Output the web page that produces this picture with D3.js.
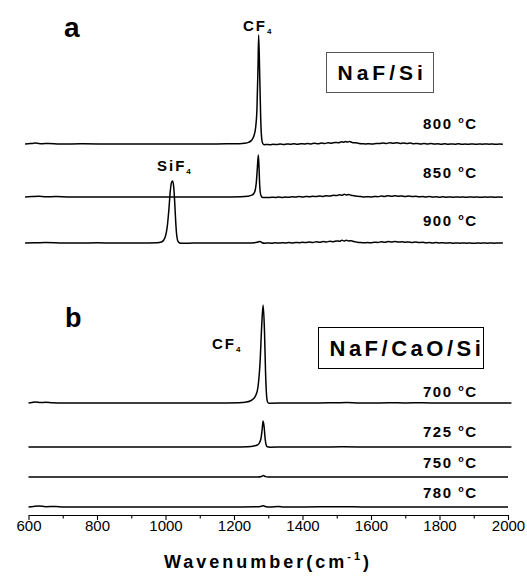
<!DOCTYPE html>
<html>
<head>
<meta charset="utf-8">
<script src="https://cdn.jsdelivr.net/npm/d3@7/dist/d3.min.js"></script>
<style>
  html, body { margin: 0; padding: 0; background: #fff; }
  svg { display: block; }
  text { font-family: "Liberation Sans", Arial, sans-serif; fill: #000; }
</style>
</head>
<body>
<svg id="chart" width="527" height="580"></svg>
<script>
// ---------------- DATA ----------------
const majorTicks = [600, 800, 1000, 1200, 1400, 1600, 1800, 2000];
const minorTicks = [700, 900, 1100, 1300, 1500, 1700, 1900];
const axisTitle = "Wavenumber(cm";

const temps = ["800", "850", "900", "700", "725", "750", "780"];
const offsets = [371, 318, 272, 112, 68, 38, 8];   // vertical stacking offsets (intensity units)

const s800 = [[590,0],[605,0.4],[620,0.9],[640,0.3],[660,0.6],[690,0],[760,0.2],[850,0],[950,0],[1050,0],[1150,0.1],[1200,0.2],[1215,0.3],[1230,0.7],[1242,1.6],[1252,4],[1258,8],[1263,16],[1267,35],[1270,75],[1272,109],[1275,70],[1278,25],[1281,5],[1284,0.5],[1288,-0.7],[1295,-0.4],[1305,-0.7],[1315,-0.2],[1325,-0.6],[1335,0],[1345,-0.4],[1355,0.1],[1365,-0.3],[1375,0.2],[1385,-0.2],[1395,0.3],[1405,0],[1415,0.5],[1425,0.1],[1435,0.7],[1445,0.3],[1455,0.9],[1465,0.5],[1475,1.2],[1485,0.8],[1495,1.6],[1505,1.3],[1515,2.3],[1520,1.8],[1525,2.6],[1530,1.9],[1537,2.4],[1545,1.6],[1555,1.2],[1565,0.6],[1575,0.3],[1585,0.1],[1595,0.2],[1605,0],[1615,0.6],[1625,0.4],[1635,1.0],[1645,0.5],[1655,1.2],[1665,0.7],[1675,1.3],[1685,0.6],[1695,1.0],[1705,0.4],[1715,0.9],[1725,0.3],[1735,0.6],[1745,0.1],[1755,0.5],[1765,0],[1775,0.4],[1785,-0.1],[1795,0.3],[1805,-0.2],[1815,0.2],[1825,-0.3],[1835,0.1],[1845,-0.2],[1855,0.2],[1865,-0.3],[1875,0],[1885,-0.3],[1895,0.1],[1905,-0.3],[1915,0],[1925,-0.2],[1935,0.1],[1945,-0.2],[1955,0],[1965,-0.3],[1975,0],[1985,-0.2]];

const s850 = [[590,0],[610,0.4],[630,0.8],[650,0.2],[680,0.5],[720,0],[800,0.1],[900,0],[1000,0],[1100,0],[1180,0.1],[1220,0.3],[1240,0.8],[1252,1.8],[1258,3.5],[1262,7],[1265,14],[1268,28],[1271,42],[1273,30],[1275,12],[1277,4],[1280,0.5],[1284,-0.6],[1290,-0.4],[1300,-0.6],[1310,-0.2],[1320,-0.5],[1330,-0.1],[1340,-0.4],[1350,0],[1360,-0.3],[1370,0.2],[1380,-0.1],[1390,0.4],[1400,0.1],[1410,0.6],[1420,0.2],[1430,0.8],[1440,0.4],[1450,1.0],[1460,0.6],[1470,1.3],[1480,0.9],[1490,1.7],[1500,1.4],[1508,2.3],[1515,1.7],[1522,2.7],[1528,2.0],[1535,2.6],[1542,1.7],[1550,1.3],[1560,0.7],[1570,0.4],[1580,0.1],[1590,0.3],[1600,0.1],[1610,0.5],[1620,0.3],[1630,1.0],[1640,0.6],[1650,1.3],[1660,0.8],[1670,1.2],[1680,0.7],[1690,1.1],[1700,0.5],[1710,0.9],[1720,0.4],[1730,0.7],[1740,0.2],[1750,0.5],[1760,0.1],[1770,0.4],[1780,-0.1],[1790,0.3],[1800,-0.2],[1810,0.2],[1820,-0.2],[1830,0.1],[1840,-0.3],[1850,0.1],[1860,-0.2],[1870,0],[1880,-0.3],[1890,0.1],[1900,-0.2],[1910,0],[1920,-0.3],[1930,0],[1940,-0.2],[1950,0.1],[1960,-0.3],[1970,0],[1985,-0.2]];

const s900 = [[590,0],[620,0.2],[650,0.5],[700,0.1],[750,0],[800,0.2],[850,0],[900,0],[950,0.1],[975,0.3],[988,1],[995,3],[1000,7],[1005,16],[1010,34],[1014,52],[1018,61],[1021,62],[1024,56],[1027,40],[1030,20],[1033,7],[1036,2],[1040,0.3],[1048,-0.3],[1060,-0.2],[1080,-0.1],[1120,0],[1160,0],[1200,0.1],[1240,0.1],[1260,0.3],[1270,1.0],[1276,1.5],[1282,0.3],[1290,-0.2],[1300,0.1],[1310,-0.3],[1320,0.2],[1330,-0.1],[1340,0.3],[1350,0],[1360,0.4],[1370,0.1],[1380,0.6],[1390,0.3],[1400,0.8],[1410,0.4],[1420,1.0],[1430,0.5],[1440,1.2],[1450,0.8],[1460,1.4],[1470,1.0],[1480,1.7],[1490,1.3],[1500,2.1],[1508,1.7],[1515,2.7],[1522,2.0],[1528,2.8],[1535,2.0],[1542,2.3],[1550,1.4],[1560,0.8],[1570,0.4],[1580,0.2],[1590,0.4],[1600,0.3],[1610,0.8],[1620,0.5],[1630,1.2],[1640,0.8],[1650,1.4],[1660,1.0],[1670,1.5],[1680,0.9],[1690,1.3],[1700,0.8],[1710,1.1],[1720,0.6],[1730,0.9],[1740,0.4],[1750,0.7],[1760,0.2],[1770,0.5],[1780,0.1],[1790,0.4],[1800,0],[1810,0.3],[1820,-0.1],[1830,0.2],[1840,-0.2],[1850,0.1],[1860,-0.2],[1870,0.1],[1880,-0.2],[1890,0],[1900,-0.3],[1910,0],[1920,-0.2],[1930,0.1],[1940,-0.2],[1950,0],[1960,-0.2],[1970,0],[1985,-0.1]];

const s700 = [[600,0],[610,0.5],[620,1.0],[635,0.4],[650,0.8],[670,0.2],[700,0],[800,0],[900,0],[1000,0],[1100,0],[1180,0.1],[1215,0.3],[1233,0.8],[1247,2],[1256,4],[1264,8],[1270,16],[1276,40],[1281,78],[1285,98],[1289,72],[1292,32],[1295,8],[1298,1],[1302,-0.3],[1310,-0.2],[1330,0],[1360,0.1],[1400,0],[1450,0.1],[1500,0.3],[1530,0.4],[1560,0.1],[1600,0],[1650,0.2],[1700,0.1],[1750,0.2],[1800,0],[1850,0.1],[1900,0],[1950,0.1],[2010,0]];

const s725 = [[600,0],[700,0],[800,0],[900,0],[1000,0],[1100,0],[1200,0],[1240,0.3],[1258,1],[1268,2],[1274,4],[1279,9],[1282,17],[1285,26],[1288,20],[1291,8],[1294,2],[1297,0.2],[1305,-0.2],[1350,0],[1450,0],[1520,0.2],[1600,0],[1700,0.1],[1800,0],[1900,0],[2010,0]];

const s750 = [[600,0],[800,0],[1000,0],[1200,0],[1270,0],[1280,0.5],[1286,1.5],[1292,0.4],[1300,0],[1400,0],[1500,0.1],[1600,0],[1800,0],[2000,0]];

const s780 = [[600,0],[615,0.6],[630,1],[650,0.3],[680,0.5],[700,0],[800,0],[1000,0],[1200,0],[1270,0.2],[1280,0.8],[1286,1.2],[1293,0.3],[1305,0],[1330,0.4],[1345,0],[1400,0],[1500,0.3],[1550,0.2],[1600,0],[1700,0.1],[1800,0],[2000,0]];

const spectra = [s800, s850, s900, s700, s725, s750, s780];

// ---------------- CHART ----------------
const svg = d3.select("#chart");
const x = d3.scaleLinear().domain([600, 2000]).range([28.5, 508]);
const y = d3.scaleLinear().domain([0, 500]).range([515, 15]);
const font = '"Liberation Sans", Arial, sans-serif';

const line = d3.line()
  .x(d => x(d[0]))
  .y(d => y(d[1]))
  .curve(d3.curveMonotoneX);

spectra.forEach((s, i) => {
  svg.append("path")
    .datum(s.map(p => [p[0], p[1] + offsets[i]]))
    .attr("d", line)
    .attr("fill", "none")
    .attr("stroke", "#000")
    .attr("stroke-width", 1.5)
    .attr("stroke-linejoin", "round");
});

// axis
const axisG = svg.append("g").attr("transform", `translate(0,${y(0)})`);
axisG.call(d3.axisBottom(x).tickValues(majorTicks).tickSize(5).tickSizeOuter(0).tickFormat(d3.format("d")));
axisG.selectAll("text").attr("y", 5).attr("dy", "0.71em")
  .style("font-family", font).style("font-size", "15px");
axisG.select(".domain").attr("stroke-width", 1.1);
axisG.selectAll(".tick line").attr("stroke-width", 1.1);
const minorG = svg.append("g").attr("transform", `translate(0,${y(0)})`);
minorG.call(d3.axisBottom(x).tickValues(minorTicks).tickSize(3.5).tickSizeOuter(0).tickFormat(""));
minorG.select(".domain").remove();
minorG.selectAll(".tick line").attr("stroke-width", 1.1);

// axis title
const t = svg.append("text")
  .attr("x", 268).attr("y", 568)
  .attr("text-anchor", "middle")
  .style("font-size", "18px").style("font-weight", "bold").style("letter-spacing", "3px");
t.append("tspan").text(axisTitle);
t.append("tspan").attr("dy", -8).style("font-size", "11px").text("-1");
t.append("tspan").attr("dy", 8).text(")");

// temperature labels
const tempY = [129, 178, 226, 397, 437, 468, 498];
temps.forEach((tt, i) => {
  const tx = svg.append("text")
    .attr("x", 423).attr("y", tempY[i])
    .style("font-size", "15px").style("font-weight", "bold").style("letter-spacing", "1.5px");
  tx.append("tspan").text(tt + " ");
  tx.append("tspan").attr("dy", -6).style("font-size", "9px").text("o");
  tx.append("tspan").attr("dy", 6).text("C");
});

// panel letters
svg.append("text").attr("x", 64).attr("y", 37)
  .style("font-size", "28px").style("font-weight", "bold").text("a");
svg.append("text").attr("x", 65).attr("y", 327)
  .style("font-size", "27px").style("font-weight", "bold").text("b");

// species labels
function species(xp, yp, main) {
  const g = svg.append("text").attr("x", xp).attr("y", yp)
    .style("font-size", "15px").style("font-weight", "bold").style("letter-spacing", "2px");
  g.append("tspan").text(main);
  g.append("tspan").attr("dy", 3).style("font-size", "8px").text("4");
}
species(243, 31, "CF");
species(157, 171, "SiF");
species(212, 349, "CF");

// sample boxes
function box(x0, y0, w, h, label, fs, ls, stroke) {
  svg.append("rect").attr("x", x0).attr("y", y0).attr("width", w).attr("height", h)
    .attr("fill", "#fff").attr("stroke", stroke).attr("stroke-width", 1);
  svg.append("text").attr("x", x0 + 11).attr("y", y0 + h / 2 + fs * 0.36)
    .style("font-size", fs + "px").style("font-weight", "bold").style("letter-spacing", ls + "px")
    .text(label);
}
box(326.5, 52.5, 107, 40, "NaF/Si", 21, 4, "#555");
box(318.5, 327.5, 165, 41, "NaF/CaO/Si", 22, 3.5, "#000");
</script>
</body>
</html>
